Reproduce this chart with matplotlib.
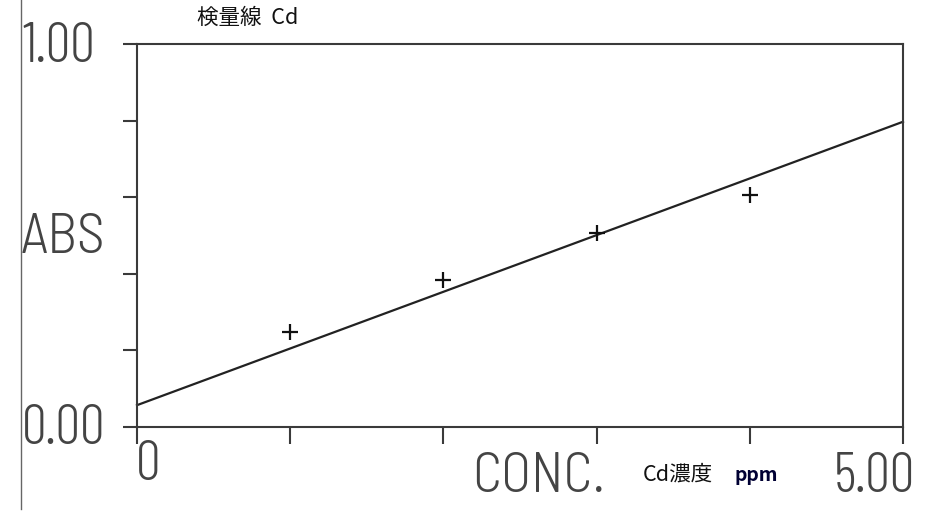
import matplotlib.pyplot as plt
from matplotlib.lines import Line2D
import numpy as np

# calibration standards (ppm) and measured absorbance
conc = [1.0, 2.0, 3.0, 4.0]
absorbance = [0.248, 0.384, 0.507, 0.606]

# calibration line: ABS = intercept + slope * conc
intercept = 0.057
slope = 0.148

x_min, x_max = 0.0, 5.0
y_min, y_max = 0.0, 1.0

W, H = 940, 511
ink = '#3a3a3a'
digits = ['Barlow Condensed', 'DejaVu Sans']
words = ['Barlow Semi Condensed', 'DejaVu Sans']
jp = ['Noto Sans CJK JP', 'DejaVu Sans']


def px(x, y):
    # pixel position (from top-left) -> figure fraction
    return x / W, 1 - y / H


def main():
    fig = plt.figure(figsize=(W / 100, H / 100), dpi=100)
    left, top = px(137, 44)
    right, bottom = px(903, 427)
    ax = fig.add_axes([left, bottom, right - left, top - bottom])

    xs = np.array([x_min, x_max])
    ax.plot(xs, intercept + slope * xs, color='#222222', lw=1.6, clip_on=False)
    ax.plot(conc, absorbance, '+', color='#111111', ms=11, mew=1.6)

    ax.set_xlim(x_min, x_max)
    ax.set_ylim(y_min, y_max)
    for s in ax.spines.values():
        s.set_linewidth(1.5)
        s.set_color(ink)

    ax.set_xticks(np.linspace(x_min, x_max, 6))
    ax.set_yticks(np.linspace(y_min, y_max, 6))
    ax.tick_params(axis='x', direction='out', length=12, width=1.5, color=ink, labelbottom=False)
    ax.tick_params(axis='y', direction='out', length=10, width=1.5, color=ink, labelleft=False)

    # axis numbers and labels (positioned by baseline)
    num = dict(family=digits, weight=300, fontsize=40, color='#444444', va='baseline')
    fig.text(*px(22, 62), f'{y_max:.2f}', ha='left', **num)
    fig.text(*px(22, 444), f'{y_min:.2f}', ha='left', **num)
    fig.text(*px(136, 480), f'{x_min:.0f}', ha='left', **num)
    fig.text(*px(915, 492), f'{x_max:.2f}', ha='right', **num)

    lab = dict(family=words, weight=300, fontsize=40, color='#444444', va='baseline')
    fig.text(*px(21, 253), 'ABS', ha='left', **lab)
    fig.text(*px(472, 492), 'CONC.', ha='left', **lab)

    fig.text(*px(197, 18), '検量線  Cd', family=jp, fontsize=15.5,
             color='#111111', ha='left', va='center')
    fig.text(*px(643, 475), 'Cd濃度', family=jp, fontsize=15.5,
             color='#111111', ha='left', va='center')
    fig.text(*px(735, 475), 'ppm', family=jp, fontsize=14, weight='bold',
             color='#000033', ha='left', va='center')

    # thin frame line on the left edge
    fig.add_artist(Line2D([21 / W, 21 / W], [1, 1 - 509 / H],
                          transform=fig.transFigure, color='#666666', lw=1))

    plt.savefig('out.png', dpi=100)
    return


if __name__ == '__main__':
    main()
